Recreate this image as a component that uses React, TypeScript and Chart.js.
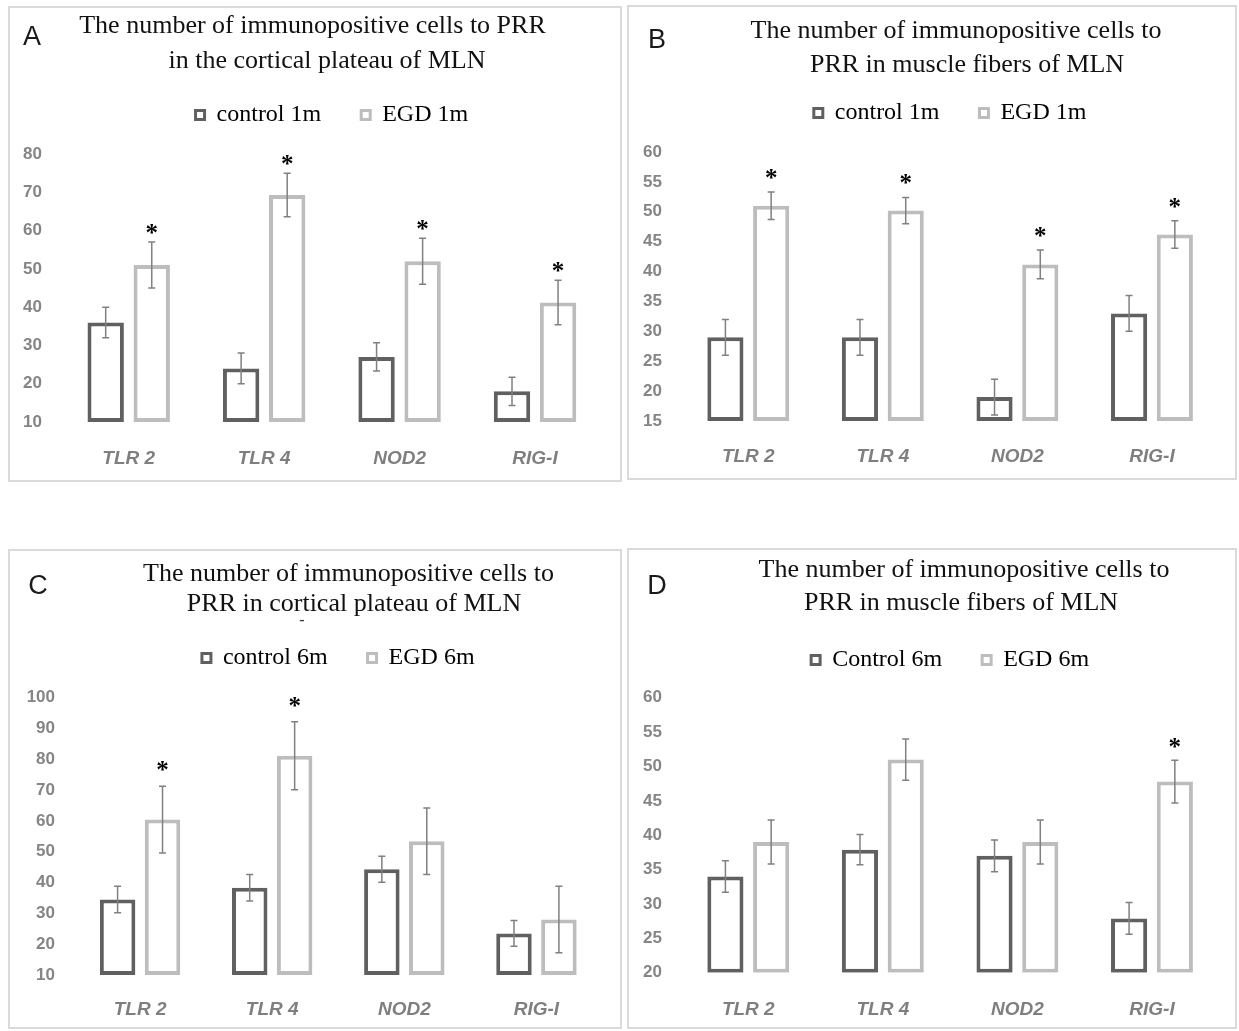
import React, { useEffect, useRef } from 'react';
import { Chart, registerables } from 'chart.js';

Chart.register(...registerables);

// ---------- data ----------
const categories = ['TLR 2', 'TLR 4', 'NOD2', 'RIG-I'];

// Panel A (1 month, cortical plateau)
const controlA = [36, 24, 27, 18];
const controlErrA = [4, 4, 3.7, 3.7];
const egdA = [51, 69.3, 52, 41.2];
const egdErrA = [6, 5.7, 6, 5.8];
const starsA = [true, true, true, true];
const yTicksA = { min: 10, max: 80, step: 10 };

// Panel B (1 month, muscle fibers)
const controlB = [29, 29, 19, 33];
const controlErrB = [3, 3, 3, 3];
const egdB = [51, 50.2, 41.2, 46.2];
const egdErrB = [2.3, 2.2, 2.4, 2.3];
const starsB = [true, true, true, true];
const yTicksB = { min: 15, max: 60, step: 5 };

// Panel C (6 months, cortical plateau)
const controlC = [34.5, 38.3, 44.3, 23.5];
const controlErrC = [4.3, 4.3, 4.2, 4.2];
const egdC = [60.4, 81.1, 53.4, 28];
const egdErrC = [10.8, 11, 10.8, 10.8];
const starsC = [true, true, false, false];
const yTicksC = { min: 10, max: 100, step: 10 };

// Panel D (6 months, muscle fibers)
const controlD = [34, 37.9, 37, 27.9];
const controlErrD = [2.3, 2.2, 2.3, 2.3];
const egdD = [39, 51, 39, 47.8];
const egdErrD = [3.2, 3, 3.2, 3.1];
const starsD = [false, false, false, true];
const yTicksD = { min: 20, max: 60, step: 5 };

// ---------- styles ----------
const DARK = '#606060';
const LIGHT = '#bdbdbd';
const SERIF = '"Liberation Serif", "Times New Roman", serif';
const SANS = '"Liberation Sans", Arial, sans-serif';

const errorBarPlugin = {
  id: 'errorBars',
  afterDatasetsDraw(chart: any, _args: any, opts: any) {
    const ctx = chart.ctx;
    const yScale = chart.scales.y;
    ctx.save();
    chart.data.datasets.forEach((ds: any, di: number) => {
      const meta = chart.getDatasetMeta(di);
      meta.data.forEach((bar: any, i: number) => {
        const v = ds.data[i];
        const e = ds.errors[i];
        const x = bar.x;
        const yt = yScale.getPixelForValue(v + e);
        const yb = yScale.getPixelForValue(v - e);
        ctx.strokeStyle = opts.color;
        ctx.lineWidth = opts.lineWidth;
        ctx.beginPath();
        ctx.moveTo(x, yt);
        ctx.lineTo(x, yb);
        ctx.moveTo(x - opts.cap, yt);
        ctx.lineTo(x + opts.cap, yt);
        ctx.moveTo(x - opts.cap, yb);
        ctx.lineTo(x + opts.cap, yb);
        ctx.stroke();
        if (ds.stars && ds.stars[i]) {
          ctx.font = opts.starFont;
          ctx.fillStyle = '#000';
          ctx.textAlign = 'center';
          ctx.textBaseline = 'alphabetic';
          const m = ctx.measureText('*');
          const cy = yt - opts.starGap;
          ctx.fillText('*', x, cy + (m.actualBoundingBoxAscent - m.actualBoundingBoxDescent) / 2);
        }
      });
    });
    ctx.restore();
  },
};

type TitleLine = { text: string; cx: number; cy: number };

type PanelDef = {
  letter: string;
  letterX: number;
  letterY: number;
  left: number;
  top: number;
  width: number;
  height: number;
  title: TitleLine[];
  legend: [string, string];
  legendTop: number;
  spacer: number;
  yWidth: number;
  yPad: number;
  xHeight: number;
  xPad: number;
  padRight: number;
  starGap: number;
  yTicks: { min: number; max: number; step: number };
  control: number[];
  controlErr: number[];
  egd: number[];
  egdErr: number[];
  stars: boolean[];
};

const panels: PanelDef[] = [
  {
    letter: 'A', letterX: 32, letterY: 36,
    left: 8, top: 6, width: 614, height: 476,
    title: [
      { text: 'The number of immunopositive cells to PRR', cx: 312.5, cy: 25 },
      { text: 'in the cortical plateau of MLN', cx: 327, cy: 60 },
    ],
    legend: ['control 1m', 'EGD 1m'], legendTop: 55,
    spacer: 17, yWidth: 51, yPad: 19, xHeight: 58, xPad: 25.6, padRight: 17.25, starGap: 13,
    yTicks: yTicksA, control: controlA, controlErr: controlErrA, egd: egdA, egdErr: egdErrA, stars: starsA,
  },
  {
    letter: 'B', letterX: 657, letterY: 39,
    left: 627, top: 5, width: 610, height: 475,
    title: [
      { text: 'The number of immunopositive cells to', cx: 956, cy: 30 },
      { text: 'PRR in muscle fibers of MLN', cx: 967, cy: 64 },
    ],
    legend: ['control 1m', 'EGD 1m'], legendTop: 54,
    spacer: 17, yWidth: 52, yPad: 19, xHeight: 57, xPad: 24.6, padRight: 15.75, starGap: 18,
    yTicks: yTicksB, control: controlB, controlErr: controlErrB, egd: egdB, egdErr: egdErrB, stars: starsB,
  },
  {
    letter: 'C', letterX: 38, letterY: 585,
    left: 8, top: 549, width: 614, height: 480,
    title: [
      { text: 'The number of immunopositive cells to', cx: 348.5, cy: 573 },
      { text: 'PRR in cortical plateau of MLN', cx: 354, cy: 603 },
    ],
    legend: ['control 6m', 'EGD 6m'], legendTop: 55,
    spacer: 17.5, yWidth: 64, yPad: 19, xHeight: 52, xPad: 23.6, padRight: 17.5, starGap: 20,
    yTicks: yTicksC, control: controlC, controlErr: controlErrC, egd: egdC, egdErr: egdErrC, stars: starsC,
  },
  {
    letter: 'D', letterX: 657, letterY: 585,
    left: 627, top: 548, width: 610, height: 481,
    title: [
      { text: 'The number of immunopositive cells to', cx: 964, cy: 569 },
      { text: 'PRR in muscle fibers of MLN', cx: 961, cy: 602 },
    ],
    legend: ['Control 6m', 'EGD 6m'], legendTop: 58,
    spacer: 15.7, yWidth: 52, yPad: 19, xHeight: 54.3, xPad: 25.9, padRight: 15.75, starGap: 17,
    yTicks: yTicksD, control: controlD, controlErr: controlErrD, egd: egdD, egdErr: egdErrD, stars: starsD,
  },
];

function Panel({ def }: { def: PanelDef }) {
  const ref = useRef<HTMLCanvasElement | null>(null);
  const cw = def.width - 4;
  const ch = def.height - 4;

  useEffect(() => {
    if (!ref.current) return;
    const barStyle = {
      backgroundColor: '#ffffff',
      borderWidth: 4,
      borderSkipped: false,
      categoryPercentage: 0.68,
      barPercentage: 0.79,
      base: def.yTicks.min,
    };
    const chart = new Chart(ref.current, {
      type: 'bar',
      data: {
        labels: categories,
        datasets: [
          {
            ...barStyle,
            label: def.legend[0],
            data: def.control,
            errors: def.controlErr,
            stars: null,
            borderColor: DARK,
          } as any,
          {
            ...barStyle,
            label: def.legend[1],
            data: def.egd,
            errors: def.egdErr,
            stars: def.stars,
            borderColor: LIGHT,
          } as any,
        ],
      },
      options: {
        responsive: false,
        animation: false,
        layout: { padding: { top: def.legendTop, left: 0, right: def.padRight, bottom: 0 } },
        plugins: {
          title: { display: false },
          legend: {
            display: true,
            position: 'top',
            fullSize: false,
            labels: {
              boxWidth: 9,
              boxHeight: 9,
              padding: 40,
              color: '#111111',
              font: { family: SERIF, size: 24 },
              generateLabels: (c: any) =>
                c.data.datasets.map((ds: any, i: number) => ({
                  text: ds.label,
                  fillStyle: '#ffffff',
                  strokeStyle: ds.borderColor,
                  lineWidth: 3,
                  hidden: false,
                  datasetIndex: i,
                })),
            },
          },
          subtitle: {
            display: true,
            text: '',
            weight: 500,
            font: { size: 1, lineHeight: 1 },
            padding: { top: 0, bottom: def.spacer - 1 },
          } as any,
          tooltip: { enabled: false },
          errorBars: {
            color: '#808080',
            lineWidth: 1.5,
            cap: 3.5,
            starGap: def.starGap,
            starFont: `bold 25px ${SERIF}`,
          },
        } as any,
        scales: {
          x: {
            grid: { display: false, drawTicks: false },
            border: { display: false },
            ticks: {
              color: '#7f7f7f',
              padding: def.xPad,
              font: { family: SANS, size: 19, style: 'italic', weight: 'bold' },
            },
            afterFit: (s: any) => {
              s.height = def.xHeight;
            },
          },
          y: {
            min: def.yTicks.min,
            max: def.yTicks.max,
            grid: { display: false, drawTicks: false },
            border: { display: false },
            ticks: {
              stepSize: def.yTicks.step,
              color: '#858585',
              padding: def.yPad,
              font: { family: SANS, size: 17, weight: 'bold' },
            },
            afterFit: (s: any) => {
              s.width = def.yWidth;
            },
          },
        },
      },
      plugins: [errorBarPlugin as any],
    } as any);
    return () => chart.destroy();
  }, [def]);

  return (
    <div
      style={{
        position: 'absolute',
        left: def.left,
        top: def.top,
        width: def.width,
        height: def.height,
        boxSizing: 'border-box',
        border: '2px solid #dadada',
        background: '#fff',
      }}
    >
      <canvas
        ref={ref}
        width={cw}
        height={ch}
        style={{ position: 'absolute', left: 0, top: 0, width: cw, height: ch }}
      />
    </div>
  );
}

const centered = (x: number, y: number): React.CSSProperties => ({
  position: 'absolute',
  left: x,
  top: y,
  transform: 'translate(-50%, -50%)',
  whiteSpace: 'nowrap',
  lineHeight: 1,
});

export default function App() {
  return (
    <div
      style={{
        position: 'absolute',
        left: 0,
        top: 0,
        width: 1239,
        height: 1031,
        background: '#ffffff',
        overflow: 'hidden',
      }}
    >
      {panels.map((p) => (
        <Panel key={p.letter} def={p} />
      ))}
      {panels.map((p) => (
        <div
          key={'L' + p.letter}
          style={{ ...centered(p.letterX, p.letterY), fontFamily: SANS, fontSize: 27, color: '#1a1a1a' }}
        >
          {p.letter}
        </div>
      ))}
      {panels.map((p) =>
        p.title.map((t, i) => (
          <div
            key={'T' + p.letter + i}
            style={{ ...centered(t.cx, t.cy), fontFamily: SERIF, fontSize: 26, color: '#111111' }}
          >
            {t.text}
          </div>
        ))
      )}
      <div style={{ ...centered(302, 620), fontFamily: SERIF, fontSize: 16, color: '#333' }}>-</div>
    </div>
  );
}
